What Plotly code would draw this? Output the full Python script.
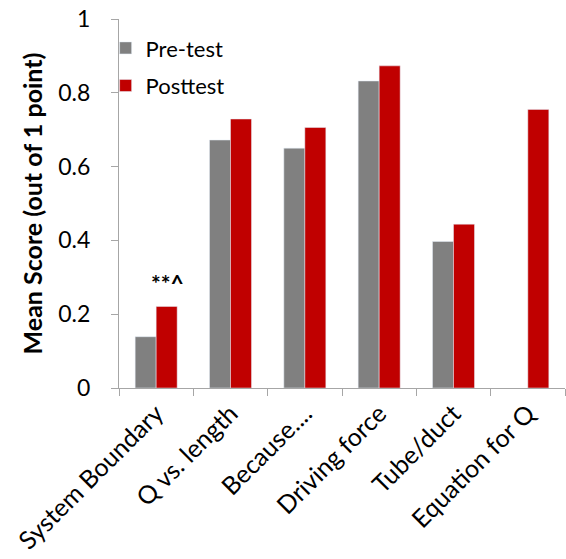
import plotly.graph_objects as go

categories = ["System Boundary", "Q vs. length", "Because....", "Driving force", "Tube/duct", "Equation for Q"]
pre_test = [0.139, 0.672, 0.650, 0.832, 0.397, None]
post_test = [0.221, 0.729, 0.706, 0.873, 0.444, 0.755]
y_ticks = [0, 0.2, 0.4, 0.6, 0.8, 1]
y_tick_labels = ["0", "0.2", "0.4", "0.6", "0.8", "1"]

FONT = "Lato"
AXIS_GRAY = "#a6a6a6"

fig = go.Figure()
fig.add_trace(go.Bar(name="Pre-test", x=categories, y=pre_test, marker_color="#808080", legendgroup="pre"))
fig.add_trace(go.Bar(name="Posttest", x=categories, y=post_test, marker_color="#C00000", legendgroup="post"))

# significance marker over the first posttest bar
fig.add_annotation(x=categories[0], y=post_test[0], xshift=11, yshift=7, text="<b>**^</b>",
                   showarrow=False, yanchor="bottom", font=dict(family=FONT, size=23, color="black"))

fig.update_layout(
    width=566, height=559,
    margin=dict(l=119, r=1, t=19, b=171),
    paper_bgcolor="white", plot_bgcolor="white",
    barmode="group", bargap=0.435, bargroupgap=0,
    font=dict(family=FONT, size=22, color="black"),
    legend=dict(x=-0.03, y=0.978, xanchor="left", yanchor="top",
                font=dict(family=FONT, size=22), bgcolor="rgba(0,0,0,0)",
                itemwidth=30, tracegroupgap=6, traceorder="grouped"),
    showlegend=True,
)
fig.update_xaxes(
    type="category", tickangle=-45, showline=True, linecolor=AXIS_GRAY, linewidth=1,
    ticks="outside", tickson="boundaries", ticklen=7, tickcolor=AXIS_GRAY,
    tickfont=dict(family=FONT, size=25), showgrid=False,
)
fig.update_yaxes(
    range=[0, 1], tickvals=y_ticks, ticktext=y_tick_labels, showline=True, linecolor=AXIS_GRAY,
    linewidth=1, ticks="outside", ticklen=7, tickcolor=AXIS_GRAY, showgrid=False, zeroline=False,
    tickfont=dict(family=FONT, size=23), ticklabelstandoff=16,
    title=dict(text="<b>Mean Score (out of 1 point)</b>", font=dict(family=FONT, size=25), standoff=8),
)

fig.write_html("out.html")
